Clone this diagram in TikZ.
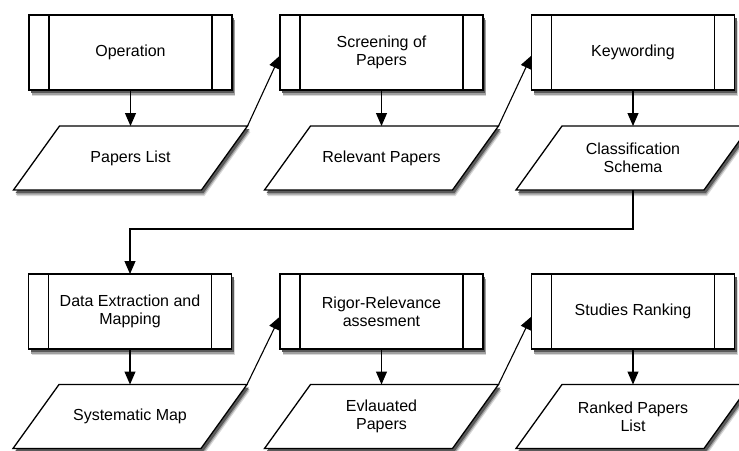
\documentclass[tikz,border=0pt]{standalone}
\usepackage{fontspec}
\setmainfont{Liberation Sans}
\usetikzlibrary{arrows.meta}
\definecolor{shadeA}{RGB}{215,215,215}
\definecolor{shadeB}{RGB}{160,160,160}
\definecolor{shadeC}{RGB}{90,90,90}
% slanted outline of a data shape centred at (#1,#2), shifted by (#3,#4)
\newcommand{\paraoutline}[4]{%
  ({#1-71+#3},{#2-32+#4}) -- ({#1+117+#3},{#2-32+#4})
  -- ({#1+71+#3},{#2+32+#4}) -- ({#1-117+#3},{#2+32+#4}) -- cycle}
% data shape with soft shadow and its text node
\newcommand{\datanode}[4]{%
  \fill[shadeA] \paraoutline{#2}{#3}{3}{6};
  \fill[shadeB] \paraoutline{#2}{#3}{2.5}{4.5};
  \fill[shadeC] \paraoutline{#2}{#3}{2}{3};
  \draw[datashape] \paraoutline{#2}{#3}{0}{0};
  \node[datatext] (#1) at (#2,#3) {#4};
  \coordinate (#1-tr) at ({#2+117},{#3-32});}
% predefined-process box with soft shadow and side bars
\newcommand{\procnode}[4]{%
  \fill[shadeA] ({#2-101.5+3},{#3-37.5+6}) rectangle ({#2+101.5+3},{#3+37.5+6});
  \fill[shadeB] ({#2-101.5+2.5},{#3-37.5+4.5}) rectangle ({#2+101.5+2.5},{#3+37.5+4.5});
  \fill[shadeC] ({#2-101.5+2},{#3-37.5+3}) rectangle ({#2+101.5+2},{#3+37.5+3});
  \node[process] (#1) at (#2,#3) {#4};
  \draw[line width=1.3pt] ([xshift=20pt]#1.north west) -- ([xshift=20pt]#1.south west)
    ([xshift=-20pt]#1.north east) -- ([xshift=-20pt]#1.south east);}
\begin{document}
\begin{tikzpicture}[x=1pt,y=-1pt,
  font=\fontsize{16}{18}\selectfont,
  process/.style={draw,line width=1.3pt,fill=white,
      minimum width=203pt,minimum height=75pt,inner sep=0pt,outer sep=0pt,
      align=center},
  datatext/.style={minimum width=188pt,minimum height=64pt,inner sep=0pt,
      outer sep=0pt,align=center},
  datashape/.style={draw,line width=1.3pt,fill=white,line join=miter},
  flow/.style={line width=1.1pt,-{Triangle[length=13pt,width=11pt]}},
]
\useasboundingbox (0,0) rectangle (739,450);

% upper row: processes and their outputs
\procnode{op}{130.5}{52.5}{Operation}
\procnode{scr}{381.5}{52.5}{Screening of\\Papers}
\procnode{kw}{633}{52.5}{Keywording}
\datanode{pl}{130.5}{158}{Papers List}
\datanode{rp}{381.5}{158}{Relevant Papers}
\datanode{cs}{633}{158}{Classification\\Schema}

% lower row
\procnode{dem}{130}{311.5}{Data Extraction and\\Mapping}
\procnode{rr}{381.5}{311.5}{Rigor-Relevance\\assesment}
\procnode{sr}{633}{311.5}{Studies Ranking}
\datanode{sm}{130}{416.5}{Systematic Map}
\datanode{ep}{381.5}{416.5}{Evlauated\\Papers}
\datanode{rl}{633}{416.5}{Ranked Papers\\List}

% process -> output
\foreach \a/\b in {op/pl,scr/rp,kw/cs,dem/sm,rr/ep,sr/rl}
  \draw[flow] (\a.south) -- (\b.north);

% output -> next process
\draw[flow] (pl-tr) -- ([yshift=-3pt]scr.west);
\draw[flow] (rp-tr) -- ([yshift=-3pt]kw.west);
\draw[flow] (sm-tr) -- ([yshift=-5pt]rr.west);
\draw[flow] (ep-tr) -- ([yshift=-5pt]sr.west);

% wrap from the upper row to the lower row
\coordinate (turn) at ([yshift=-39pt]cs.south);
\draw[flow] (cs.south) -- (turn) -| (dem.north);
\end{tikzpicture}
\end{document}
